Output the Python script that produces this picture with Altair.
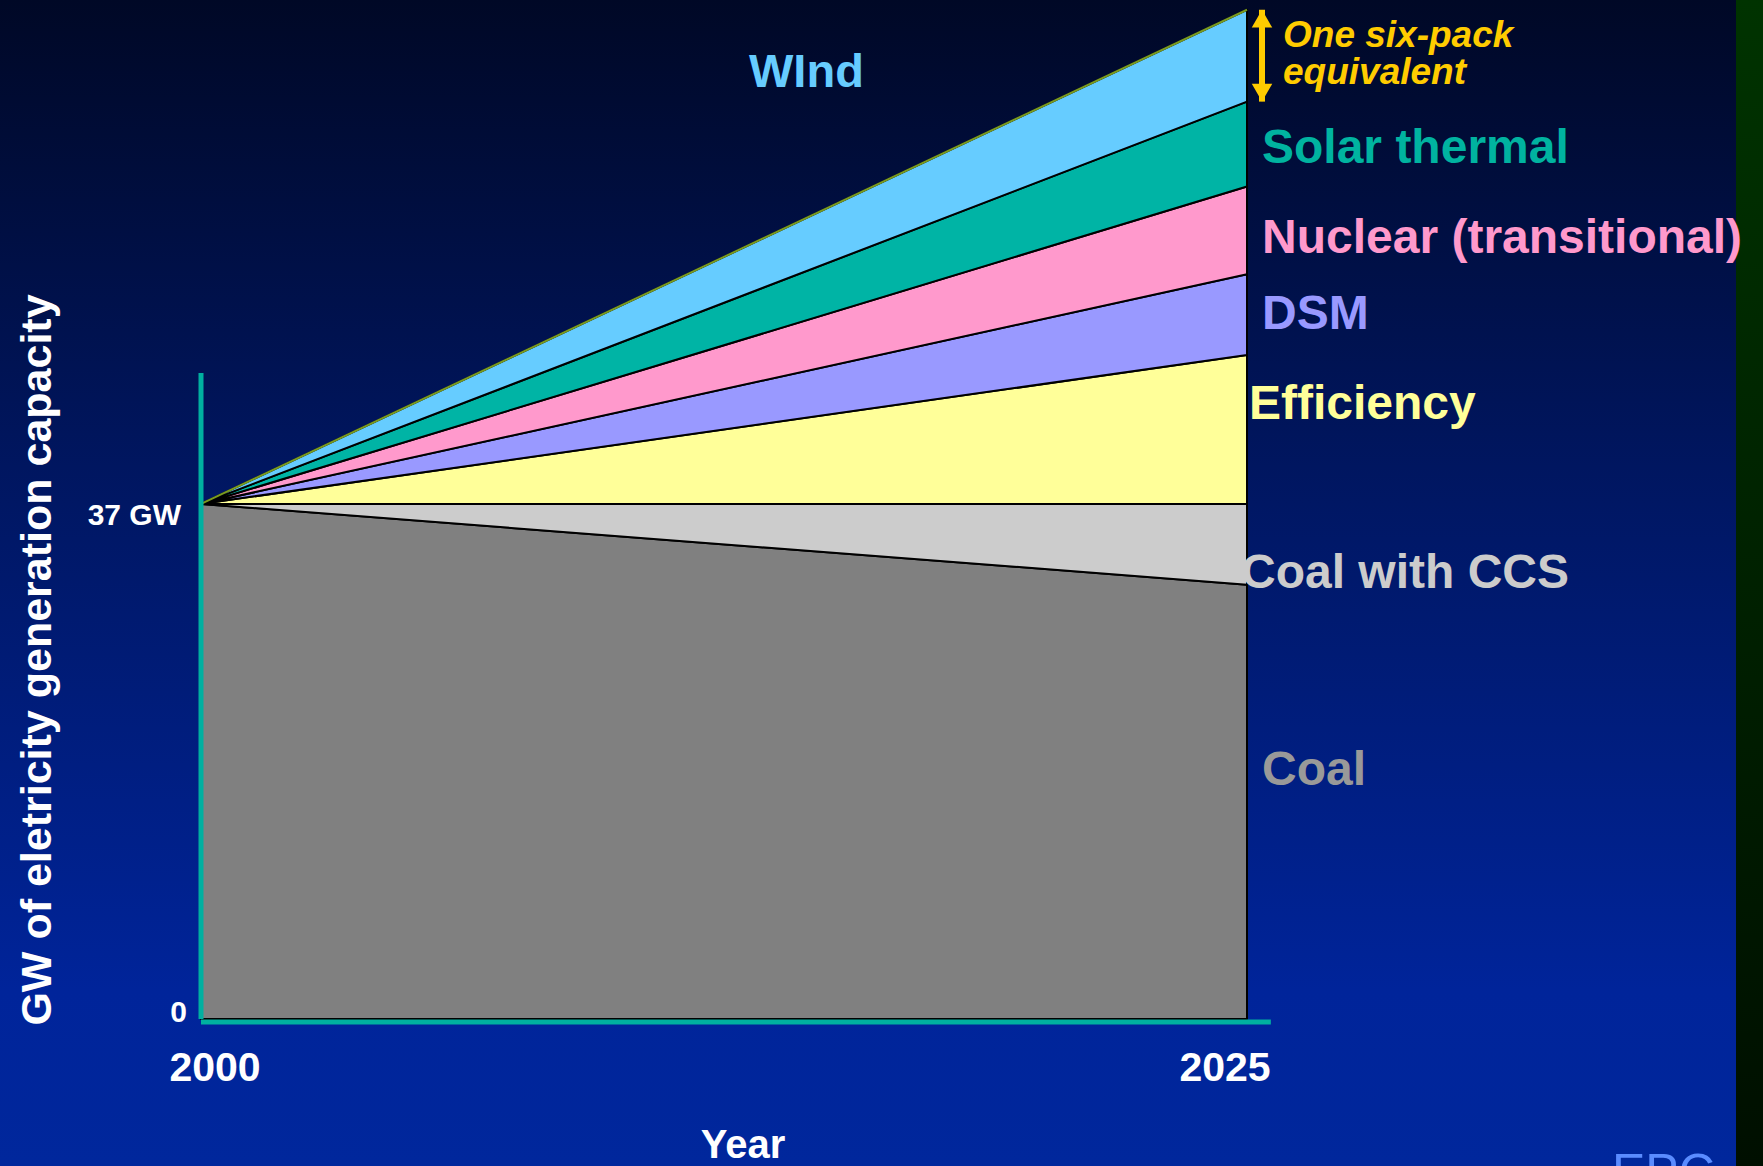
import altair as alt
import pandas as pd

# ---------------- data ----------------
years = [2000, 2025]
sources = ["Coal", "Coal with CCS", "Efficiency", "DSM",
           "Nuclear (transitional)", "Solar thermal", "WInd"]
coal = [37.0, 31.2]
coal_ccs = [0.0, 5.8]
efficiency = [0.0, 10.7]
dsm = [0.0, 5.8]
nuclear = [0.0, 6.3]
solar = [0.0, 6.1]
wind = [0.0, 6.6]
fill_colors = ["#808080", "#cccccc", "#ffff99", "#9999ff", "#ff99cc", "#00b4a5", "#66ccff"]

y_ticks = [0, 37]
y_tick_labels = ["0", "37 GW"]
x_tick_labels = ["2000", "2025"]
axis_top_gw = 46.4
axis_right_year = 2025.57

series = [coal, coal_ccs, efficiency, dsm, nuclear, solar, wind]
rows = []
for i, yr in enumerate(years):
    base = 0.0
    for name, vals in zip(sources, series):
        rows.append({"year": yr, "source": name, "lo": base, "hi": base + vals[i]})
        base += vals[i]
df = pd.DataFrame(rows)
wind_df = df[df.source == "WInd"]
wind_end = df[(df.source == "WInd") & (df.year == 2025)]

# ---------------- layout ----------------
PADL, PADT = 201, 0
W, H = 1046, 1019
TOTW, TOTH = 1763, 1166
YMAX = 73.2
FONT = "Liberation Sans"
TEAL = "#00b0a0"

xs = alt.Scale(domain=[2000, 2025], nice=False, zero=False)
ys = alt.Scale(domain=[0, YMAX], nice=False, zero=True)
dummy = pd.DataFrame({"a": [0]})

bg = alt.Chart(dummy).mark_rect(
    fill=alt.Gradient(gradient="linear",
                      stops=[alt.GradientStop(color="#000826", offset=0),
                             alt.GradientStop(color="#001660", offset=0.4),
                             alt.GradientStop(color="#00249a", offset=0.85),
                             alt.GradientStop(color="#00279c", offset=1)],
                      x1=0, x2=0, y1=0, y2=1)
).encode(x=alt.value(-PADL), x2=alt.value(TOTW - PADL), y=alt.value(-PADT), y2=alt.value(TOTH))

strip = alt.Chart(dummy).mark_rect(
    fill=alt.Gradient(gradient="linear",
                      stops=[alt.GradientStop(color="#003300", offset=0),
                             alt.GradientStop(color="#000f00", offset=1)],
                      x1=0, x2=0, y1=0, y2=1)
).encode(x=alt.value(1736 - PADL), x2=alt.value(TOTW - PADL), y=alt.value(0), y2=alt.value(TOTH))

areas = alt.Chart(df).mark_area(stroke="black", strokeWidth=2, strokeJoin="round",
                                opacity=1, fillOpacity=1).encode(
    x=alt.X("year:Q", scale=xs, axis=None),
    y=alt.Y("hi:Q", scale=ys, axis=None),
    y2="lo:Q",
    fill=alt.Fill("source:N", scale=alt.Scale(domain=sources, range=fill_colors), legend=None),
    detail="source:N",
)

wind_edge = alt.Chart(wind_df).mark_line(color="#7a9a20", strokeWidth=2).encode(
    x=alt.X("year:Q", scale=xs, axis=None),
    y=alt.Y("hi:Q", scale=ys, axis=None),
)

yaxis = alt.Chart(pd.DataFrame({"x": [2000], "y": [0], "y2": [axis_top_gw]})).mark_rule(
    color=TEAL, strokeWidth=5).encode(
    x=alt.X("x:Q", scale=xs, axis=None), y=alt.Y("y:Q", scale=ys, axis=None), y2="y2:Q")
xaxis = alt.Chart(pd.DataFrame({"x": [2000], "x2": [axis_right_year], "y": [0]})).mark_rule(
    color=TEAL, strokeWidth=5, yOffset=3).encode(
    x=alt.X("x:Q", scale=xs, axis=None), x2="x2:Q", y=alt.Y("y:Q", scale=ys, axis=None))

# arrow (spans the wind wedge at 2025)
arrow_shaft = alt.Chart(wind_end).mark_rule(color="#ffcc00", strokeWidth=6,
                                            yOffset=0).encode(
    x=alt.value(1262 - PADL),
    y=alt.Y("hi:Q", scale=ys, axis=None), y2="lo:Q")
arrow_top = alt.Chart(wind_end).mark_point(shape="triangle-up", filled=True, color="#ffcc00",
                                           size=420, opacity=1, yOffset=9).encode(
    x=alt.value(1262 - PADL), y=alt.Y("hi:Q", scale=ys, axis=None))
arrow_bot = alt.Chart(wind_end).mark_point(shape="triangle-down", filled=True, color="#ffcc00",
                                           size=420, opacity=1, yOffset=-9).encode(
    x=alt.value(1262 - PADL), y=alt.Y("lo:Q", scale=ys, axis=None))


def lab(text, x_abs, y_abs, size, color, align="left", italic=False, angle=None, weight="bold"):
    kw = dict(text=text, font=FONT, fontWeight=weight, fontSize=size, color=color,
              align=align, baseline="alphabetic")
    if italic:
        kw["fontStyle"] = "italic"
    if angle is not None:
        kw["angle"] = angle
    return alt.Chart(dummy).mark_text(**kw).encode(
        x=alt.value(x_abs - PADL), y=alt.value(y_abs - PADT))


texts = [
    lab("WInd", 749, 87, 47, "#66ccff"),
    lab("One six-pack", 1283, 47, 37, "#ffcc00", italic=True),
    lab("equivalent", 1283, 84, 37, "#ffcc00", italic=True),
    lab("Solar thermal", 1262, 163, 48, "#00b3a0"),
    lab("Nuclear (transitional)", 1262, 253, 48, "#ff99cc"),
    lab("DSM", 1262, 329, 48, "#9999ff"),
    lab("Efficiency", 1249, 419, 48, "#ffff99"),
    lab("Coal with CCS", 1241, 588, 48, "#cccccc"),
    lab("Coal", 1262, 785, 48, "#999999"),
    lab(y_tick_labels[1], 181, 525, 30, "white", align="right"),
    lab(y_tick_labels[0], 187, 1022, 30, "white", align="right"),
    lab(x_tick_labels[0], 215, 1081, 41, "white", align="center"),
    lab(x_tick_labels[1], 1225, 1081, 41, "white", align="center"),
    lab("Year", 743, 1158, 40, "white", align="center"),
    lab("GW of eletricity generation capacity", 51, 660, 43, "white", align="center", angle=270),
    lab("EPC", 1612, 1189, 50, "#5a8cff", weight="normal"),
]

chart = alt.layer(bg, strip, areas, wind_edge, yaxis, xaxis, arrow_shaft, arrow_top, arrow_bot,
                  *texts).properties(
    width=W, height=H,
    padding={"left": PADL, "top": PADT, "right": TOTW - PADL - W, "bottom": TOTH - PADT - H},
    autosize=alt.AutoSizeParams(type="none"),
    background="#001a70",
).configure_view(strokeWidth=0)

chart.save("out.html", embed_options={"renderer": "svg", "actions": False})
